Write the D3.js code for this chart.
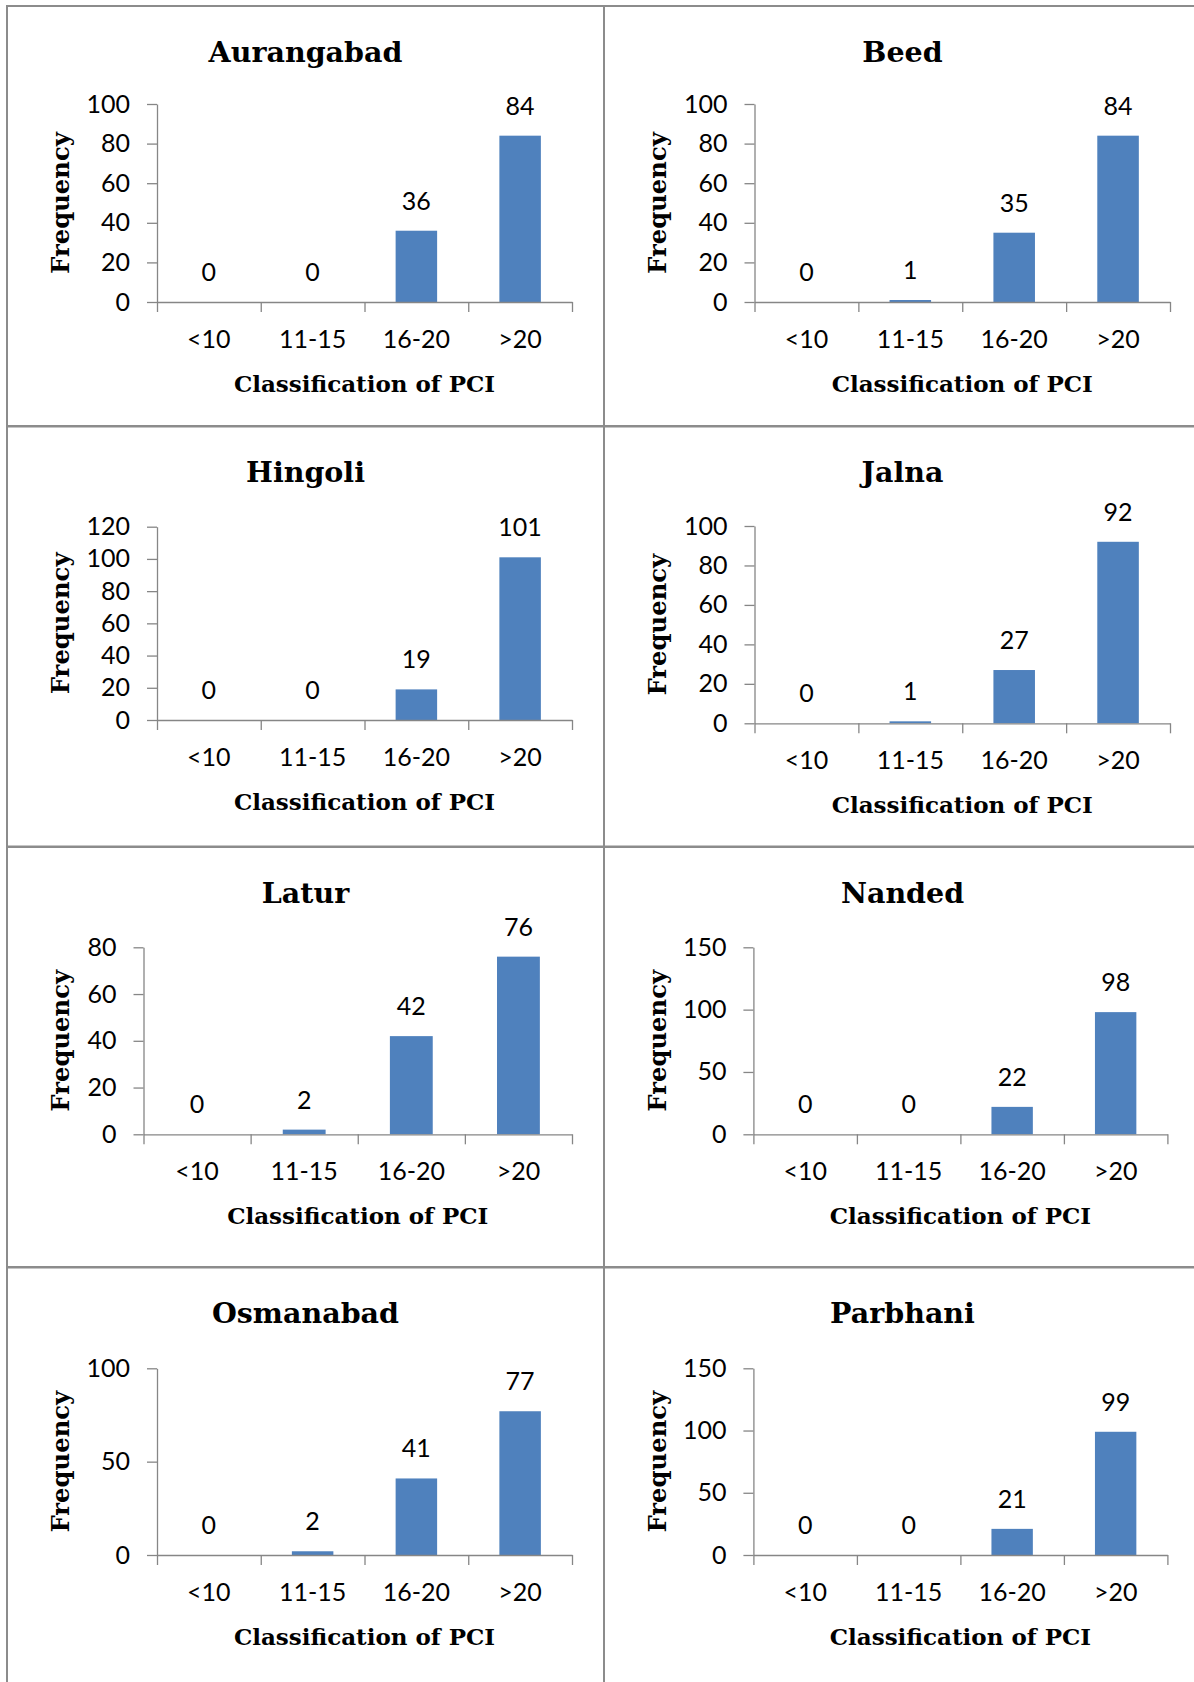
<!DOCTYPE html>
<html>
<head>
<meta charset="utf-8">
<script src="https://cdn.jsdelivr.net/npm/d3@7"></script>
<style>
  html, body { margin: 0; padding: 0; background: #fff; }
  svg { display: block; }
  .tick-label, .value-label { font-family: Lato, "Open Sans", sans-serif; font-size: 25px; fill: #000; }
  .panel-title { font-family: "DejaVu Serif", serif; font-weight: bold; font-size: 28.5px; fill: #000; }
  .axis-title { font-family: "DejaVu Serif", serif; font-weight: bold; font-size: 23px; fill: #000; }
  .axis-title.y-title { font-size: 24.3px; }
</style>
</head>
<body>
<svg id="chart" width="1194" height="1682"></svg>
<script>
// PCI class bins shared by every district
const categories = ["<10", "11-15", "16-20", ">20"];

// Frequency of each PCI class per district
const districts = ["Aurangabad", "Beed", "Hingoli", "Jalna", "Latur", "Nanded", "Osmanabad", "Parbhani"];
const aurangabad = [0, 0, 36, 84];
const beed       = [0, 1, 35, 84];
const hingoli    = [0, 0, 19, 101];
const jalna      = [0, 1, 27, 92];
const latur      = [0, 2, 42, 76];
const nanded     = [0, 0, 22, 98];
const osmanabad  = [0, 2, 41, 77];
const parbhani   = [0, 0, 21, 99];
const frequencies = [aurangabad, beed, hingoli, jalna, latur, nanded, osmanabad, parbhani];

// Value-axis range and tick step for each panel
const yMax  = [100, 100, 120, 100, 80, 150, 100, 150];
const yStep = [20, 20, 20, 20, 20, 50, 50, 50];

const xTitle = "Classification of PCI";
const yTitle = "Frequency";

// Page layout: 2 columns x 4 rows of chart boxes
const colX = [7, 604];
const rowY = [6, 426, 847, 1267];
const panelW = 597, panelH = 420.5;
// Plot area inside each chart box (relative to box origin)
const plotBox = [
  { l: 150,   r: 565,   t: 98,    b: 296 },
  { l: 150.5, r: 566,   t: 98,    b: 296 },
  { l: 150,   r: 565,   t: 100.7, b: 294 },
  { l: 150.5, r: 566,   t: 100,   b: 297.3 },
  { l: 136.5, r: 565,   t: 100.3, b: 287.3 },
  { l: 149.4, r: 563.4, t: 100.3, b: 287.3 },
  { l: 150,   r: 565,   t: 101.3, b: 288 },
  { l: 149.4, r: 563.4, t: 101.3, b: 288 }
];

const barColor = "#4F81BD";
const axisColor = "#868686";
const borderColor = "#8c8c8c";

const svg = d3.select("#chart");

districts.forEach((name, i) => {
  const ox = colX[i % 2], oy = rowY[Math.floor(i / 2)];
  const box = plotBox[i];
  const g = svg.append("g").attr("transform", `translate(${ox},${oy})`);

  const plotW = box.r - box.l, plotH = box.b - box.t;
  const plot = g.append("g").attr("transform", `translate(${box.l},${box.t})`);

  const x = d3.scaleBand().domain(categories).range([0, plotW])
    .paddingInner(0.6).paddingOuter(0.3);
  const xEdge = d3.scaleLinear().domain([0, categories.length]).range([0, plotW]);
  const y = d3.scaleLinear().domain([0, yMax[i]]).range([plotH, 0]);

  // bars
  plot.selectAll("rect.bar").data(frequencies[i]).join("rect")
    .attr("class", "bar")
    .attr("x", (d, k) => x(categories[k]))
    .attr("width", x.bandwidth())
    .attr("y", d => y(d))
    .attr("height", d => plotH - y(d))
    .attr("fill", barColor);

  // value axis
  const yAxis = plot.append("g")
    .call(d3.axisLeft(y).tickValues(d3.range(0, yMax[i] + 0.001, yStep[i]))
      .tickSize(10).tickSizeOuter(0).tickPadding(17));
  yAxis.selectAll("text").attr("class", "tick-label").attr("fill", null);

  // category axis: boundary ticks, labels centred in each bin
  const xAxis = plot.append("g").attr("transform", `translate(0,${plotH})`)
    .call(d3.axisBottom(xEdge).tickValues(d3.range(0, categories.length + 1))
      .tickFormat("").tickSize(10).tickSizeOuter(0));
  [yAxis, xAxis].forEach(a => {
    a.attr("font-family", null).attr("font-size", null);
    a.select(".domain").attr("stroke", axisColor).attr("stroke-width", 1.3);
    a.selectAll(".tick line").attr("stroke", axisColor).attr("stroke-width", 1.3);
  });

  plot.selectAll("text.cat").data(categories).join("text")
    .attr("class", "tick-label cat")
    .attr("x", d => x(d) + x.bandwidth() / 2)
    .attr("y", plotH + 46)
    .attr("text-anchor", "middle")
    .text(d => d);

  // data labels above bars
  plot.selectAll("text.value-label").data(frequencies[i]).join("text")
    .attr("class", "value-label")
    .attr("x", (d, k) => x(categories[k]) + x.bandwidth() / 2)
    .attr("y", d => y(d) - 21)
    .attr("text-anchor", "middle")
    .text(d => d);

  // titles
  g.append("text").attr("class", "panel-title")
    .attr("x", panelW / 2).attr("y", 55.5)
    .attr("text-anchor", "middle").text(name);

  g.append("text").attr("class", "axis-title")
    .attr("x", box.l + plotW / 2).attr("y", box.b + 90)
    .attr("text-anchor", "middle").text(xTitle);

  g.append("text").attr("class", "axis-title y-title")
    .attr("transform", `translate(62,${box.t + plotH / 2}) rotate(-90)`)
    .attr("text-anchor", "middle").text(yTitle);

  // chart box outline
  g.append("rect")
    .attr("x", 0).attr("y", 0).attr("width", panelW).attr("height", panelH)
    .attr("fill", "none").attr("stroke", borderColor).attr("stroke-width", 2);
});
</script>
</body>
</html>
